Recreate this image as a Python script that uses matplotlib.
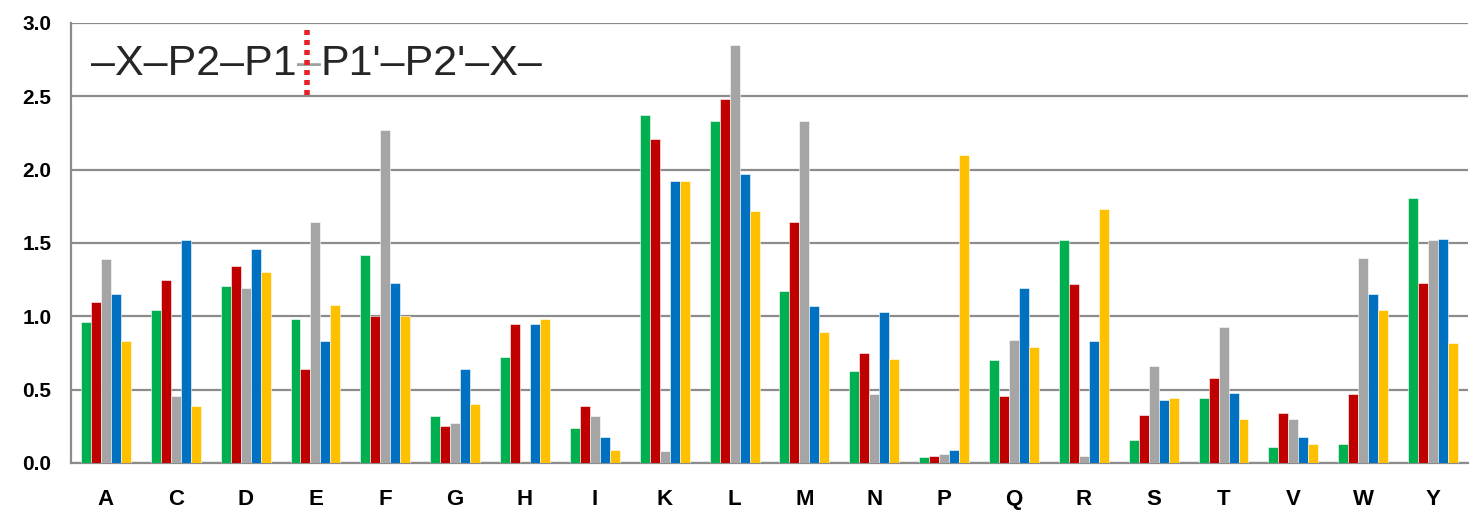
import matplotlib
matplotlib.use('Agg')
import matplotlib.pyplot as plt
import numpy as np

# amino acid categories
residues = ['A', 'C', 'D', 'E', 'F', 'G', 'H', 'I', 'K', 'L',
            'M', 'N', 'P', 'Q', 'R', 'S', 'T', 'V', 'W', 'Y']

# one series per position (green, red, gray, blue, yellow)
s_green = [0.96, 1.04, 1.21, 0.98, 1.42, 0.32, 0.72, 0.24, 2.37, 2.33,
           1.17, 0.63, 0.04, 0.70, 1.52, 0.16, 0.44, 0.11, 0.13, 1.81]
s_red = [1.10, 1.25, 1.34, 0.64, 1.00, 0.25, 0.95, 0.39, 2.21, 2.48,
         1.64, 0.75, 0.05, 0.46, 1.22, 0.33, 0.58, 0.34, 0.47, 1.23]
s_gray = [1.39, 0.46, 1.19, 1.64, 2.27, 0.27, 0.00, 0.32, 0.08, 2.85,
          2.33, 0.47, 0.06, 0.84, 0.05, 0.66, 0.93, 0.30, 1.40, 1.52]
s_blue = [1.15, 1.52, 1.46, 0.83, 1.23, 0.64, 0.95, 0.18, 1.92, 1.97,
          1.07, 1.03, 0.09, 1.19, 0.83, 0.43, 0.48, 0.18, 1.15, 1.53]
s_yellow = [0.83, 0.39, 1.30, 1.08, 1.00, 0.40, 0.98, 0.09, 1.92, 1.72,
            0.89, 0.71, 2.10, 0.79, 1.73, 0.44, 0.30, 0.13, 1.04, 0.82]

series = [s_green, s_red, s_gray, s_blue, s_yellow]
colors = ['#00B050', '#C00000', '#A5A5A5', '#0070C0', '#FFC000']

fig = plt.figure(figsize=(14.73, 5.13), dpi=100)
ax = fig.add_axes([71 / 1473, 50 / 513, 1397 / 1473, 440 / 513])

x = np.arange(len(residues))
w = 0.143
for i, (vals, c) in enumerate(zip(series, colors)):
    ax.bar(x + (i - 2) * w, vals, width=w, color=c, edgecolor='white',
           linewidth=0.4, zorder=3)

grid_c = '#8C8C8C'
ax.set_xlim(-0.5, 19.5)
ax.set_ylim(0, 3.0)
ax.set_yticks(np.arange(0, 3.01, 0.5))
ax.set_yticklabels(['%.1f' % v for v in np.arange(0, 3.01, 0.5)])
ax.set_xticks(x)
ax.set_xticklabels(residues)
ax.yaxis.grid(True, color=grid_c, linewidth=1.6, zorder=0)
ax.set_axisbelow(True)

for side in ['top', 'right']:
    ax.spines[side].set_visible(False)
for side in ['left', 'bottom']:
    ax.spines[side].set_color(grid_c)
    ax.spines[side].set_linewidth(1.6)

ax.tick_params(axis='y', length=0, pad=14, labelsize=15)
ax.tick_params(axis='x', length=0, pad=19, labelsize=16)
for lab in ax.get_xticklabels() + ax.get_yticklabels():
    lab.set_fontfamily('Liberation Sans')
    lab.set_fontweight('bold')

# cleavage site annotation
txt_kw = dict(fontsize=31, fontfamily='Liberation Sans', color='#262626')
t1 = ax.text((91 - 71) / 1397, (463 - 75) / 440, '\u2013X\u2013P2\u2013P1',
             transform=ax.transAxes, va='baseline', ha='left', **txt_kw)
t2 = ax.annotate('\u2013', xy=(1, 0), xycoords=t1, va='bottom', ha='left',
                 fontsize=31, fontfamily='Liberation Sans', color='#A0A0A0')
t3 = ax.annotate("P1'\u2013P2'\u2013X\u2013", xy=(1, 0), xycoords=t2,
                 va='bottom', ha='left', **txt_kw)

xr = (307 - 71) / 1397
ax.plot([xr, xr], [(463 - 30) / 440, (463 - 98) / 440], transform=ax.transAxes,
        color='#E8202A', linewidth=4, linestyle=(0, (0.9, 0.9)), zorder=5,
        clip_on=False)

fig.savefig('out.png', dpi=100)
